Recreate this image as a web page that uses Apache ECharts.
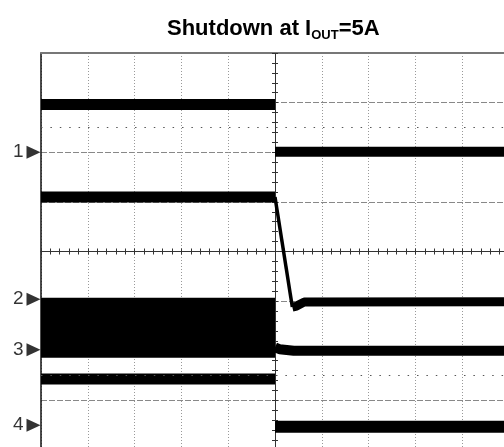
<!DOCTYPE html>
<html>
<head>
<meta charset="utf-8">
<style>
  html, body { margin: 0; padding: 0; background: #fff; }
  #chart { width: 504px; height: 447px; }
</style>
<script src="https://cdn.jsdelivr.net/npm/echarts@6/dist/echarts.min.js"></script>
</head>
<body>
<div id="chart"></div>
<script>
// scope screen in divisions: x -5..5 (trigger at 0), y -4..4 (centre line at 0)
var ch1Before = [[-5, 2.96], [0, 2.96]]
var ch1After = [[0, 2.01], [5, 2.01]]
var ch2Before = [[-5, 1.1], [0, 1.1]]
var ch2Fall = [[0, 1.1], [0.37, -1.12]]
var ch2After = [[0.37, -1.12], [0.46, -1.1], [0.62, -1.02], [5, -1.01]]
var ch3Switching = [[-5, 0, -0.93, -2.04]] // x0, x1, top, bottom of the switching block
var ch3Before = [[-5, -2.04], [0, -2.04]]
var ch3After = [[0, -1.93], [0.1, -1.97], [0.4, -2.0], [5, -2.0]]
var ch4Before = [[-5, -2.57], [0, -2.57]]
var ch4After = [[0, -3.53], [5, -3.53]]
var channelMarks = [['1', 2.0], ['2', -0.96], ['3', -1.98], ['4', -3.5]]
var cursorLevels = [2.5, -2.5]

var font = 'Liberation Sans, Arial, sans-serif'
var chart = echarts.init(document.getElementById('chart'))

function centreAxis (pos, extra) {
  var ax = {
    type: 'value', min: -5, max: 5, interval: 1, position: pos,
    axisLine: { show: true, onZero: true, lineStyle: { color: '#333', width: 1 } },
    axisTick: { show: true, length: 3, lineStyle: { color: '#333' } },
    minorTick: { show: true, splitNumber: 5, length: 3, lineStyle: { color: '#333' } },
    axisLabel: { show: false },
    splitLine: { show: false }
  }
  return Object.assign(ax, extra)
}

function trace (data, width) {
  return {
    type: 'line', data: data, symbol: 'none', animation: false,
    lineStyle: { color: '#000', width: width || 10 },
    xAxisIndex: 0, yAxisIndex: 0
  }
}

var option = {
  animation: false,
  title: {
    text: '{m|Shutdown at I}{s|OUT}{m|=5A}',
    left: 162,
    top: 11,
    textStyle: {
      rich: {
        m: { fontSize: 22, fontWeight: 'bold', fontFamily: font, color: '#000', lineHeight: 26 },
        s: { fontSize: 13, fontWeight: 'bold', fontFamily: font, color: '#000', lineHeight: 26, verticalAlign: 'bottom' }
      }
    }
  },
  grid: { left: 41, top: 53, width: 468, height: 397, outerBoundsMode: 'none' },
  xAxis: [
    centreAxis('bottom', {
      splitLine: { show: true, lineStyle: { color: '#999', width: 1, type: [1, 2] } }
    }),
    centreAxis('top'),
    {
      type: 'value', min: -5, max: 5, position: 'top',
      axisLine: { show: true, onZero: false, lineStyle: { color: '#777', width: 2 } },
      axisTick: { show: false }, axisLabel: { show: false }, splitLine: { show: false }
    }
  ],
  yAxis: [
    centreAxis('left', {
      min: -4, max: 4,
      splitLine: { show: true, lineStyle: { color: '#888', width: 1, type: [6, 2] } }
    }),
    centreAxis('right', { min: -4, max: 4 }),
    {
      type: 'value', min: -4, max: 4, position: 'left',
      axisLine: { show: true, onZero: false, lineStyle: { color: '#111', width: 1.5 } },
      axisTick: { show: false }, axisLabel: { show: false }, splitLine: { show: false }
    }
  ],
  series: [
    {
      type: 'custom',
      data: ch3Switching,
      encode: { x: [0, 1], y: [2, 3] },
      renderItem: function (params, api) {
        var a = api.coord([api.value(0), api.value(2)])
        var b = api.coord([api.value(1), api.value(3)])
        return {
          type: 'rect',
          shape: { x: a[0], y: a[1], width: b[0] - a[0], height: b[1] - a[1] },
          style: { fill: '#000' }
        }
      },
      markLine: {
        silent: true, symbol: 'none', label: { show: false },
        lineStyle: { color: '#555', width: 1, type: [1.5, 7.9] },
        data: cursorLevels.map(function (v) { return { yAxis: v } })
      }
    },
    trace(ch1Before, 11), trace(ch1After),
    trace(ch2Before, 11), trace(ch2Fall, 3.5), trace(ch2After, 9),
    trace(ch3Before), trace(ch3After),
    trace(ch4Before, 11), trace(ch4After, 12),
    {
      type: 'scatter',
      clip: false,
      symbol: 'triangle',
      symbolRotate: -90,
      symbolSize: [13, 14],
      itemStyle: { color: '#000' },
      label: {
        show: true, position: 'left', distance: 3,
        formatter: '{b}', fontSize: 19, fontFamily: font, color: '#000'
      },
      data: channelMarks.map(function (m) { return { name: m[0], value: [-5.16, m[1]] } })
    }
  ]
}
chart.setOption(option)
</script>
</body>
</html>
